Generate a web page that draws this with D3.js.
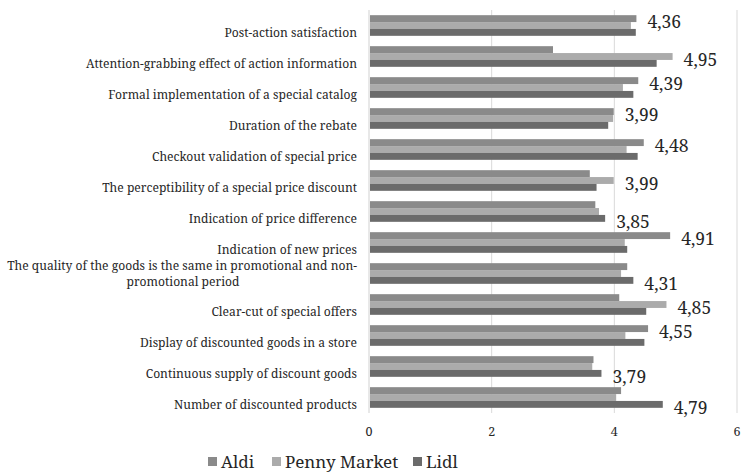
<!DOCTYPE html>
<html>
<head>
<meta charset="utf-8">
<script src="https://cdn.jsdelivr.net/npm/d3@7/dist/d3.min.js"></script>
<style>
  html, body { margin: 0; padding: 0; background: #fff; }
  svg { display: block; }
  text { font-family: "Noto Serif", "Liberation Serif", serif; fill: #262626; }
</style>
</head>
<body>
<svg id="chart" width="742" height="473"></svg>
<script>
// Rated aspects of discount campaigns, top to bottom
const categories = [
  "Post-action satisfaction",
  "Attention-grabbing effect of action information",
  "Formal implementation of a special catalog",
  "Duration of the rebate",
  "Checkout validation of special price",
  "The perceptibility of a special price discount",
  "Indication of price difference",
  "Indication of new prices",
  "The quality of the goods is the same in promotional and non-|promotional period",
  "Clear-cut of special offers",
  "Display of discounted goods in a store",
  "Continuous supply of discount goods",
  "Number of discounted products"
];

const seriesNames = ["Aldi", "Penny Market", "Lidl"];

const aldi  = [4.36, 3.00, 4.39, 3.99, 4.48, 3.60, 3.69, 4.91, 4.21, 4.08, 4.55, 3.66, 4.11];
const penny = [4.27, 4.95, 4.14, 3.98, 4.20, 3.99, 3.75, 4.17, 4.11, 4.85, 4.18, 3.64, 4.03];
const lidl  = [4.35, 4.69, 4.31, 3.90, 4.38, 3.71, 3.85, 4.21, 4.31, 4.52, 4.49, 3.79, 4.79];

// Highest score per aspect, printed beside the longest bar
const topLabels = ["4,36", "4,95", "4,39", "3,99", "4,48", "3,99", "3,85", "4,91", "4,31", "4,85", "4,55", "3,79", "4,79"];

const xTicks = [0, 2, 4, 6];
const colors = ["#8a8a8a", "#ababab", "#6b6b6b"];

const svg = d3.select("#chart");
const margin = { top: 10, left: 369 };
const plotH = 403;

const x = d3.scaleLinear().domain([0, 6]).range([margin.left, 737]);
const y = d3.scaleBand().domain(d3.range(categories.length))
  .range([margin.top, margin.top + plotH]).paddingInner(0.334).paddingOuter(0.167);
const yInner = d3.scaleBand().domain(d3.range(3)).range([0, y.bandwidth()]);

const series = [aldi, penny, lidl];

// vertical gridlines
svg.append("g").selectAll("line").data(xTicks.filter(d => d > 0)).join("line")
  .attr("x1", d => x(d)).attr("x2", d => x(d))
  .attr("y1", margin.top).attr("y2", margin.top + plotH)
  .attr("stroke", "#d9d9d9").attr("stroke-width", 1);

// bars
const groups = svg.append("g").selectAll("g").data(categories).join("g")
  .attr("transform", (d, i) => `translate(0,${y(i)})`);

groups.each(function(c, i) {
  d3.select(this).selectAll("rect").data(series.map((s, k) => ({ v: s[i], k })))
    .join("rect")
    .attr("x", x(0) + 1)
    .attr("y", d => yInner(d.k))
    .attr("width", d => x(d.v) - x(0) - 1)
    .attr("height", yInner.bandwidth())
    .attr("fill", d => colors[d.k]);
});

// value labels beside the longest bar
groups.append("text")
  .attr("x", (c, i) => x(d3.max(series, s => s[i])) + 11)
  .attr("y", (c, i) => {
    const vals = series.map(s => s[i]);
    const k = vals.indexOf(d3.max(vals));
    return yInner(k) + yInner.bandwidth() / 2 + 3.5;
  })
  .attr("dy", "0.35em")
  .attr("font-size", 17.5)
  .text((c, i) => topLabels[i]);

// category axis line
svg.append("line")
  .attr("x1", x(0)).attr("x2", x(0))
  .attr("y1", margin.top).attr("y2", margin.top + plotH)
  .attr("stroke", "#d9d9d9").attr("stroke-width", 1.2);

// category labels (a "|" marks a line break; wrapped lines are centred on the block)
const catLines = [];
categories.forEach((c, i) => {
  const lines = c.split("|");
  const mid = y(i) + y.bandwidth() / 2;
  lines.forEach((ln, j) => {
    const multi = lines.length > 1;
    catLines.push({
      text: ln,
      x: multi && j === 1 ? 183 : 357,
      anchor: multi && j === 1 ? "middle" : "end",
      y: multi ? mid + (j - 0.5) * 16 : mid + 7
    });
  });
});
svg.append("g").selectAll("text").data(catLines).join("text")
  .attr("font-size", 12.1)
  .attr("x", d => d.x).attr("y", d => d.y).attr("dy", "0.35em")
  .attr("text-anchor", d => d.anchor)
  .text(d => d.text);

// value axis tick labels
svg.append("g").selectAll("text").data(xTicks).join("text")
  .attr("x", d => x(d)).attr("y", 432)
  .attr("dy", "0.35em").attr("text-anchor", "middle")
  .attr("font-size", 12.5).attr("fill", "#404040")
  .text(d => d);

// legend
const legendX = [208, 272, 413];
const legend = svg.append("g").selectAll("g").data(seriesNames).join("g")
  .attr("transform", (d, i) => `translate(${legendX[i]},462)`);
legend.append("rect").attr("x", 0).attr("y", -5).attr("width", 9).attr("height", 9)
  .attr("fill", (d, i) => colors[i]);
legend.append("text").attr("x", 13).attr("y", 0).attr("dy", "0.35em")
  .attr("font-size", 17).text(d => d);
</script>
</body>
</html>
